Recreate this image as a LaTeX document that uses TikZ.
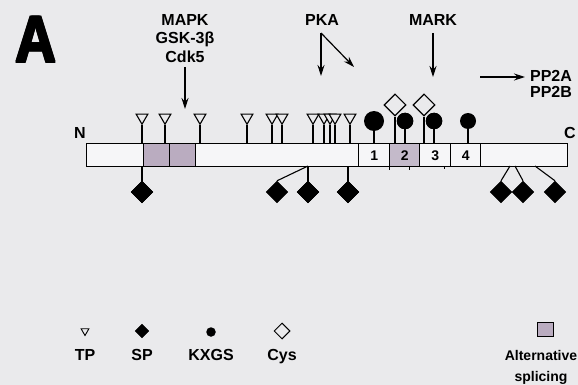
\documentclass[tikz,border=0pt]{standalone}
\usepackage{fontspec}
\setmainfont{Liberation Sans}
\usetikzlibrary{shapes.geometric,arrows.meta}
\definecolor{bgc}{RGB}{234,234,236}
\definecolor{barc}{RGB}{246,246,248}
\definecolor{altc}{RGB}{186,172,192}
\definecolor{rtwo}{RGB}{196,186,202}
\tikzset{
  lab/.style={font=\bfseries\fontsize{16}{16}\selectfont, inner sep=0pt, text height=11.4pt, text depth=0pt},
  num/.style={font=\bfseries\fontsize{14}{14}\selectfont, inner sep=0pt, text height=10pt, text depth=0pt},
  biga/.style={inner sep=0pt, font=\bfseries\fontsize{66}{66}\selectfont, text height=47pt, text depth=0pt, xscale=0.86},
  tp/.style={draw, line width=1.1pt, regular polygon, regular polygon sides=3, shape border rotate=180, minimum size=13.5pt, inner sep=0pt, fill=bgc},
  sp/.style={draw, fill=black, diamond, minimum width=22pt, minimum height=22pt, inner sep=0pt},
  kx/.style={circle, fill=black, inner sep=0pt},
  cys/.style={draw, line width=1.1pt, diamond, minimum width=22pt, minimum height=22pt, inner sep=0pt, fill=bgc},
  stem/.style={line width=1.1pt},
  arr/.style={line width=1.2pt, -{Stealth[length=11pt,width=7pt]}},
  seg/.style={draw, line width=1.3pt, inner sep=0pt, anchor=north west},
}
\begin{document}
\begin{tikzpicture}[x=1pt,y=-1pt]
\fill[bgc] (0,0) rectangle (578,385);
\useasboundingbox (0,0) rectangle (578,385);
% big letter (heavy)
\foreach \dx/\dy in {-0.9/0,0.9/0,0/-0.9,0/0.9,-0.6/-0.6,0.6/0.6,-0.6/0.6,0.6/-0.6}{
  \node[biga] at (36+\dx,39+\dy) {A};
}
\node[biga] (bigA) at (36,39) {A};
% kinase labels and arrows
\node[lab] (mapk) at (185,20) {MAPK};
\node[lab] (gsk) at (185,38) {GSK-3β};
\node[lab] (cdk) at (185,57) {Cdk5};
\coordinate (mapkEnd) at (185,109);
\draw[arr] (185,67) -- (mapkEnd);
\node[lab] (pka) at (322,20) {PKA};
\coordinate (pkaS) at (321,33);
\coordinate (pkaA) at (321,76);
\coordinate (pkaB) at (354,67);
\draw[arr] (pkaS) -- (pkaA);
\draw[arr] (pkaS) -- (pkaB);
\node[lab] (mark) at (433,20) {MARK};
\coordinate (markS) at (433,33);
\coordinate (markE) at (433,77);
\draw[arr] (markS) -- (markE);
\node[lab] (pp2a) at (551,76) {PP2A};
\node[lab] (pp2b) at (551,92) {PP2B};
\coordinate (ppS) at (480,77);
\coordinate (ppE) at (525,77);
\draw[arr] (ppS) -- (ppE);
% bar
\node[seg, fill=barc, minimum width=481pt, minimum height=23pt] (bar) at (86,143) {};
\node[seg, fill=altc, minimum width=26pt, minimum height=23pt] (alt1) at (143,143) {};
\node[seg, fill=altc, minimum width=26pt, minimum height=23pt] (alt2) at (169,143) {};
\node[seg, fill=barc, minimum width=31pt, minimum height=23pt] (r1) at (358,143) {};
\node[seg, fill=rtwo, minimum width=30pt, minimum height=23pt] (r2) at (389,143) {};
\node[seg, fill=barc, minimum width=31pt, minimum height=23pt] (r3) at (419,143) {};
\node[seg, fill=barc, minimum width=30pt, minimum height=23pt] (r4) at (450,143) {};
\node[num] at (r1.center) {1};
\node[num] at (r2.center) {2};
\node[num] at (r3.center) {3};
\node[num] at (r4.center) {4};
\draw[line width=1pt] (r2.south west) -- ++(0,3);
\draw[line width=1pt] (409,166) -- ++(0,4);
\draw[line width=1pt] (444,166) -- ++(0,3);
\node[lab] (Nl) at (80,133) {N};
\node[lab] (Cl) at (570,133) {C};
% TP sites
\foreach \i/\x in {1/142,2/165,3/200,4/247,5/272,6/282,7/313,8/324,9/330,10/335,11/350}{
  \node[tp] (tp\i) at (\x,117.5) {};
}
\foreach \i in {1,...,11}{
  \draw[stem] (tp\i.south) -- (tp\i.south |- bar.north);
}
% KXGS
\node[kx, minimum size=20pt] (k1) at (374,121) {};
\node[kx, minimum size=16.5pt] (k2) at (405,121) {};
\node[kx, minimum size=16.5pt] (k3) at (434,121) {};
\node[kx, minimum size=16pt] (k4) at (468,121) {};
\foreach \i in {1,...,4}{
  \draw[stem] (k\i.center) -- (k\i.center |- bar.north);
}
% Cys
\node[cys] (c1) at (395,105) {};
\node[cys] (c2) at (424,105) {};
\draw[stem] (c1.south) -- (c1.south |- bar.north);
\draw[stem] (c2.south) -- (c2.south |- bar.north);
\node[kx, minimum size=16.5pt] at (k2) {};
\node[kx, minimum size=16.5pt] at (k3) {};
% SP sites
\node[sp] (s1) at (142,192) {};
\node[sp] (s2) at (277,192) {};
\node[sp] (s3) at (308,192) {};
\node[sp] (s4) at (348,192) {};
\node[sp] (s5) at (501,192) {};
\node[sp] (s6) at (523,192) {};
\node[sp] (s7) at (555,192) {};
\coordinate (b3) at (308,166);
\coordinate (b5) at (510,166);
\coordinate (b6) at (515,166);
\coordinate (b7) at (535,166);
\draw[stem] (s1.north |- bar.south) -- (s1.center);
\draw[stem] (b3) -- (s3.center);
\draw[stem] (b3) -- (s2.north);
\draw[stem] (s4.north |- bar.south) -- (s4.center);
\draw[stem] (b5) -- (s5.north);
\draw[stem] (b6) -- (s6.north);
\draw[stem] (b7) -- (s7.north);
\node[sp] at (s1) {};
\node[sp] at (s3) {};
\node[sp] at (s4) {};
% legend
\node[tp, minimum size=9pt, line width=0.9pt] (ltp) at (85,331) {};
\node[sp, minimum width=14pt, minimum height=14pt] (lsp) at (142,331) {};
\node[kx, minimum size=9.5pt] (lkx) at (211,332) {};
\node[cys, minimum width=16pt, minimum height=16pt, line width=1pt] (lcy) at (282,331) {};
\node[draw, line width=1pt, fill=altc, minimum width=16pt, minimum height=14pt, inner sep=0pt] (las) at (545,329) {};
\node[lab] at (85,355) {TP};
\node[lab] at (142,355) {SP};
\node[lab] at (211,355) {KXGS};
\node[lab] at (282,355) {Cys};
\node[lab, font=\bfseries\fontsize{14}{14}\selectfont, text height=10pt] at (541,355) {Alternative};
\node[lab, font=\bfseries\fontsize{14}{14}\selectfont, text height=10pt] at (541,376) {splicing};
\end{tikzpicture}
\end{document}
